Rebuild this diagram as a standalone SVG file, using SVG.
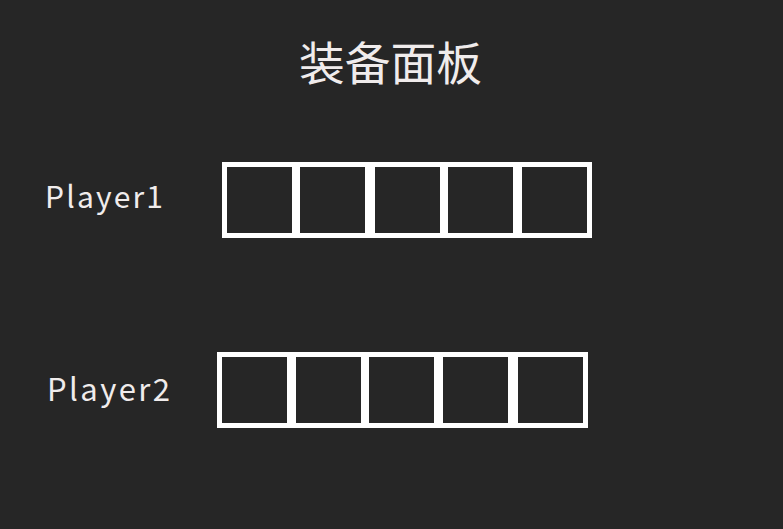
<svg xmlns="http://www.w3.org/2000/svg" width="783" height="529" viewBox="0 0 783 529">
<style>
.lbl{fill:#f0ecec;font-family:"Noto Sans CJK SC","DejaVu Sans",sans-serif}
.frame{fill:#ffffff}
.slot{fill:#262626}
</style>
<rect width="783" height="529" fill="#262626"/>
<g id="title"><text class="lbl" x="299" y="80" font-size="46" textLength="183" lengthAdjust="spacingAndGlyphs">装备面板</text></g>
<g id="player1">
<text class="lbl" x="45" y="208" font-size="30" textLength="118" lengthAdjust="spacing">Player1</text>
<rect class="frame" x="222" y="162" width="370" height="76"/>
<rect class="slot" x="227" y="167" width="65" height="66"/>
<rect class="slot" x="300" y="167" width="65" height="66"/>
<rect class="slot" x="375" y="167" width="65" height="66"/>
<rect class="slot" x="448" y="167" width="65" height="66"/>
<rect class="slot" x="522" y="167" width="65" height="66"/>
</g>
<g id="player2">
<text class="lbl" x="47" y="401" font-size="31" textLength="123" lengthAdjust="spacing">Player2</text>
<rect class="frame" x="217" y="352" width="371" height="76"/>
<rect class="slot" x="222" y="357" width="65" height="66"/>
<rect class="slot" x="296" y="357" width="65" height="66"/>
<rect class="slot" x="369" y="357" width="65" height="66"/>
<rect class="slot" x="443" y="357" width="65" height="66"/>
<rect class="slot" x="518" y="357" width="65" height="66"/>
</g>
<g id="connectors"/>
</svg>
